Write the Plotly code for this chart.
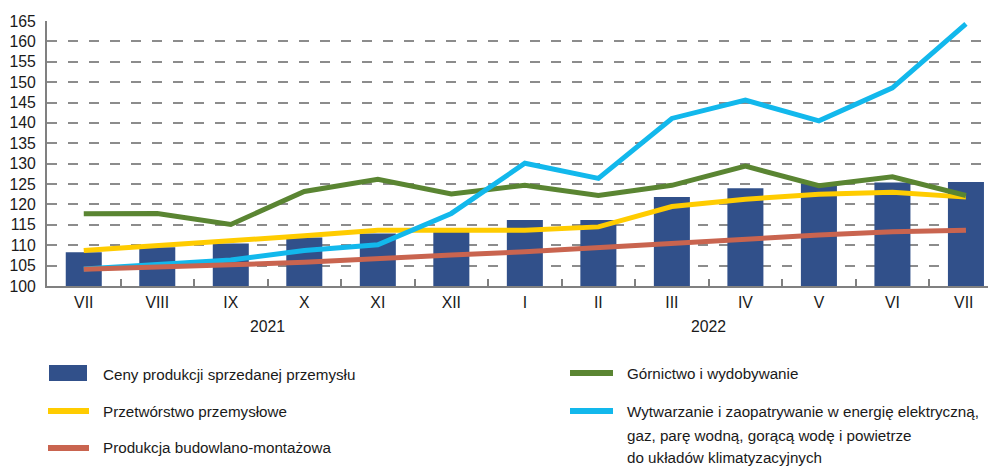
import plotly.graph_objects as go

months = ["VII", "VIII", "IX", "X", "XI", "XII", "I", "II", "III", "IV", "V", "VI", "VII "]
years = ["2021", "2022"]
year_centers = [2.5, 8.5]

ceny = [108.3, 109.5, 110.4, 111.9, 112.9, 113.6, 116.2, 116.2, 121.8, 124.0, 125.2, 125.4, 125.5]
przetworstwo = [108.7, 109.9, 110.8, 112.3, 113.7, 113.7, 113.7, 114.5, 119.5, 121.3, 122.5, 123.0, 121.8]
gornictwo = [117.7, 117.8, 115.1, 123.2, 126.2, 122.6, 124.7, 122.2, 124.7, 129.4, 124.6, 126.8, 122.2]
wytwarzanie = [104.2, 105.2, 106.4, 108.7, 110.1, 117.8, 130.1, 126.4, 141.1, 145.6, 140.5, 148.6, 164.3]
budowlano = [104.1, 104.5, 105.2, 105.8, 106.8, 107.6, 108.4, 109.5, 110.5, 111.5, 112.5, 113.3, 113.7]

names = {
    "ceny": "Ceny produkcji sprzedanej przemysłu",
    "prz": "Przetwórstwo przemysłowe",
    "bud": "Produkcja budowlano-montażowa",
    "gor": "Górnictwo i wydobywanie",
    "wyt": ["Wytwarzanie i zaopatrywanie w energię elektryczną,",
            "gaz, parę wodną, gorącą wodę i powietrze",
            "do układów klimatyzacyjnych"],
}

C_BAR = "#31508A"
C_YEL = "#FFCC00"
C_RED = "#C9644F"
C_GRN = "#5A8532"
C_BLU = "#12B8EC"
C_GRID = "#8C8C8C"
C_AX = "#808080"
FONT = "Liberation Sans, Arial, sans-serif"
FS_TICK = 15.8
FS_LEG = 15.2
TXT = "#1A1A1A"

W, H = 988, 467
L, T, R, B = 47, 21, 0, 181
PW, PH = W - L - R, H - T - B

def px(x):
    return (x - L) / PW

def py(y):
    return (H - B - y) / PH

fig = go.Figure()
fig.add_trace(go.Bar(x=months, y=ceny, marker=dict(color=C_BAR, line=dict(width=0)), width=0.49, name=names["ceny"]))
for vals, col, key in [(przetworstwo, C_YEL, "prz"), (gornictwo, C_GRN, "gor"), (wytwarzanie, C_BLU, "wyt"), (budowlano, C_RED, "bud")]:
    fig.add_trace(go.Scatter(x=months, y=vals, mode="lines", line=dict(color=col, width=5), name=key))

shapes = []
ann = []
# legend swatches
shapes.append(dict(type="rect", xref="paper", yref="paper", x0=px(49), x1=px(87), y0=py(365), y1=py(381),
                   fillcolor=C_BAR, line=dict(width=0)))
for (x0, x1, y, col) in [(48, 89, 411, C_YEL), (48, 89, 448, C_RED), (570, 613, 373, C_GRN), (570, 613, 411, C_BLU)]:
    shapes.append(dict(type="line", xref="paper", yref="paper", x0=px(x0), x1=px(x1), y0=py(y), y1=py(y),
                       line=dict(color=col, width=6)))
legend_texts = [(101, 374, names["ceny"]), (101, 411, names["prz"]), (101, 448, names["bud"]),
                (625, 373, names["gor"]), (625, 411, names["wyt"][0]), (625, 435, names["wyt"][1]),
                (625, 457, names["wyt"][2])]
for x, y, t in legend_texts:
    ann.append(dict(xref="paper", yref="paper", x=px(x), y=py(y), text=t, showarrow=False,
                    xanchor="left", yanchor="middle", font=dict(size=FS_LEG, family=FONT, color=TXT)))
for yc, yr in zip(year_centers, years):
    ann.append(dict(xref="x", yref="paper", x=yc, y=py(326), text=yr, showarrow=False,
                    xanchor="center", yanchor="middle", font=dict(size=FS_TICK, family=FONT, color=TXT)))

fig.update_layout(
    width=W, height=H,
    margin=dict(l=L, r=R, t=T, b=B),
    paper_bgcolor="white", plot_bgcolor="white",
    showlegend=False,
    bargap=0.5,
    font=dict(family=FONT, size=FS_TICK, color=TXT),
    shapes=shapes, annotations=ann,
)
fig.update_xaxes(type="category", range=[-0.5, 12.3], showgrid=False, showline=True, linecolor=C_AX, linewidth=2,
                 ticks="inside", tickson="boundaries", ticklen=7, tickcolor=C_AX, tickwidth=1.5,
                 tickfont=dict(size=FS_TICK, family=FONT, color=TXT), ticklabelstandoff=1)
fig.update_yaxes(range=[100, 165], dtick=5, tick0=100, showgrid=True, gridcolor=C_GRID, gridwidth=1.5,
                 griddash="10px,11px", showline=True, linecolor=C_AX, linewidth=2, zeroline=False,
                 ticks="", tickfont=dict(size=FS_TICK, family=FONT, color=TXT), ticklabelstandoff=6)

fig.write_html("out.html", config={"displayModeBar": False},
               post_script="document.body.style.margin='0';document.body.style.overflow='hidden';")
